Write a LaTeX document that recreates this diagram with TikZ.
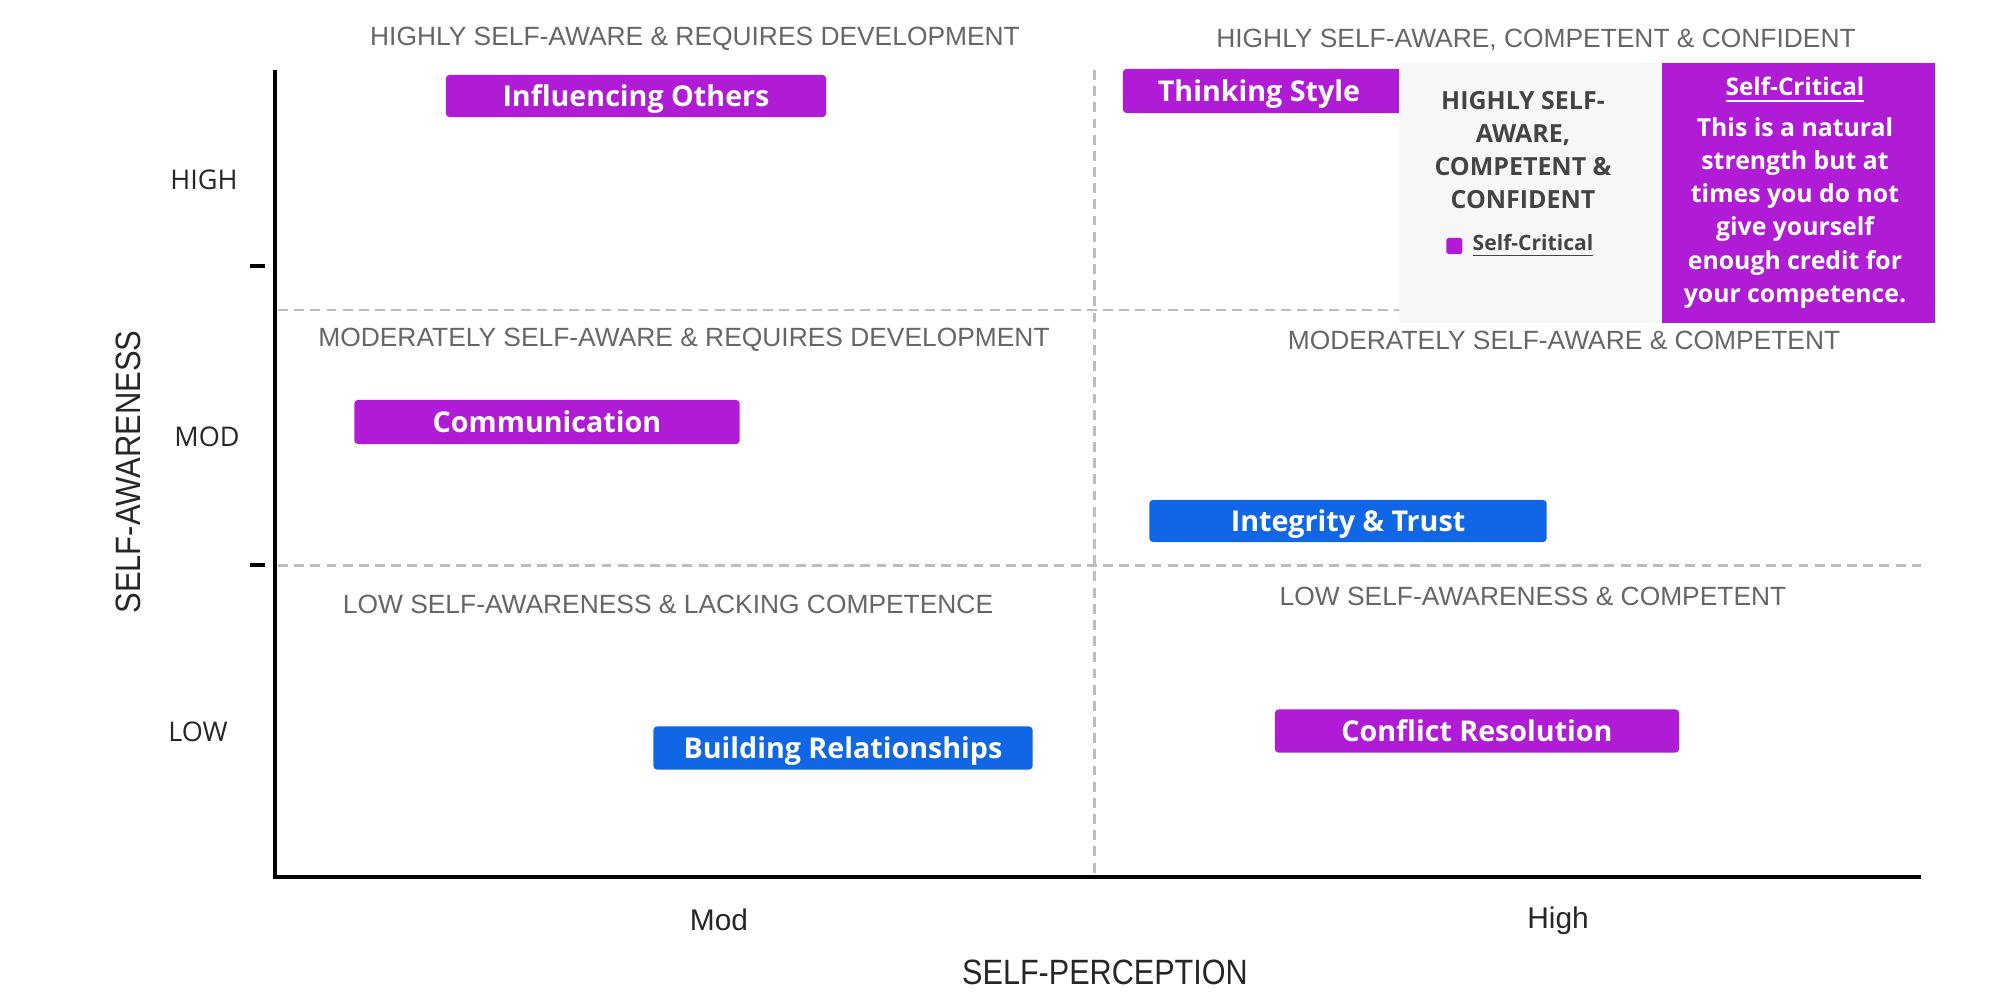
\documentclass[tikz,border=0pt]{standalone}
\usepackage{fontspec}
\setmainfont{Open Sans}
\newfontfamily\arialfont{Liberation Sans}
\usetikzlibrary{positioning}
\definecolor{barpurple}{HTML}{B01BD5}
\definecolor{barblue}{HTML}{1066E4}
\definecolor{quadgrey}{HTML}{666666}
\definecolor{boxgrey}{HTML}{F7F7F7}
\definecolor{dashgrey}{HTML}{BDBDBD}
\definecolor{darktext}{HTML}{444444}

\begin{document}
\begin{tikzpicture}[x=0.01cm,y=-0.01cm,
  bar/.style={fill=barpurple,rounded corners=1pt,text=white,inner sep=0pt,
    text height=5.8pt,text depth=0pt,font=\bfseries\fontsize{8.15}{10}\selectfont},
  bluebar/.style={bar,fill=barblue},
  quad/.style={text=quadgrey,font=\arialfont\fontsize{7.5}{9}\selectfont},
  level/.style={text=black!85,font=\fontsize{7.7}{9}\selectfont},
  divider/.style={dashgrey,line width=0.85pt,dash pattern=on 2.8pt off 1.8pt},
  axisline/.style={line width=1.1pt}]
\useasboundingbox (0,0) rectangle (2000,1000);

% quadrant dividers
\draw[divider] (1094,70) -- (1094,877);
\draw[divider] (278,310) -- (1921,310);
\draw[divider] (278,565) -- (1921,565);

% axes and ticks
\coordinate (ytop) at (275,70);
\coordinate (origin) at (275,877);
\coordinate (xend) at (1921,877);
\draw[axisline] (ytop) -- (origin) -- (xend);
\draw[axisline] (250,266) -- (265,266);
\draw[axisline] (250,565) -- (265,565);

\node[level] (lhigh) at (204,180) {HIGH};
\node[level] (lmod) at (207,437) {MOD};
\node[level] (llow) at (198,732) {LOW};
\node[rotate=90,font=\arialfont\fontsize{10}{12}\selectfont,text=black!85] (ytitle) at (128,472)
  {\scalebox{0.88}[1]{SELF-AWARENESS}};
\node[font=\arialfont\fontsize{8.5}{10}\selectfont,text=black!85] (xmod) at (719,920) {Mod};
\node[font=\arialfont\fontsize{8.5}{10}\selectfont,text=black!85] (xhigh) at (1558,921) {High};
\node[font=\arialfont\fontsize{10}{12}\selectfont,text=black!85] (xtitle) at (1105,972)
  {\scalebox{0.87}[1]{SELF-PERCEPTION}};

% quadrant titles
\node[quad] (q1) at (695,39) {HIGHLY SELF-AWARE \& REQUIRES DEVELOPMENT};
\node[quad] (q2) at (1536,40) {HIGHLY SELF-AWARE, COMPETENT \& CONFIDENT};
\node[quad] (q3) at (684,340) {MODERATELY SELF-AWARE \& REQUIRES DEVELOPMENT};
\node[quad] (q4) at (1564,340) {MODERATELY SELF-AWARE \& COMPETENT};
\node[quad] (q5) at (668,604) {LOW SELF-AWARENESS \& LACKING COMPETENCE};
\node[quad] (q6) at (1533,596) {LOW SELF-AWARENESS \& COMPETENT};

% competencies
\node[bar,minimum width=3.8cm,minimum height=0.42cm] (influence) at (636,96) {Influencing Others};
\node[bar,minimum width=2.8cm,minimum height=0.44cm] (thinking) at (1263,91) {\hspace*{-0.08cm}Thinking Style};
\node[bar,minimum width=3.85cm,minimum height=0.44cm] (comms) at (547,422) {Communication};
\node[bluebar,minimum width=3.97cm,minimum height=0.42cm] (integrity) at (1348,521) {Integrity \& Trust};
\node[bluebar,minimum width=3.79cm,minimum height=0.43cm] (relations) at (843,748) {Building Relationships};
\node[bar,minimum width=4.04cm,minimum height=0.43cm] (conflict) at (1477,731) {Conflict Resolution};

% legend box
\node[fill=boxgrey,anchor=north west,minimum width=2.63cm,minimum height=2.6cm,inner sep=0pt] (greybox) at (1398,62) {};
\node[text=darktext,align=center,font=\bfseries\fontsize{7.1}{9.36}\selectfont] (greytitle) at (1523,150)
  {HIGHLY SELF-\\AWARE,\\COMPETENT \&\\CONFIDENT};
\node[text=darktext,font=\bfseries\fontsize{6}{7}\selectfont,inner sep=0pt] (legtext) at (1533,246) {\underline{Self-Critical}};
\node[fill=barpurple,rounded corners=0.5pt,minimum size=0.16cm,inner sep=0pt,left=0.09cm of legtext] (legsq) {};

\node[fill=barpurple,anchor=north west,minimum width=2.73cm,minimum height=2.6cm,inner sep=0pt] (critbox) at (1661,62) {};
\node[text=white,font=\bfseries\fontsize{6.9}{8}\selectfont] (crithead) at (1795,90) {\underline{Self-Critical}};
\node[text=white,align=center,font=\bfseries\fontsize{7.05}{9.4}\selectfont] (crittext) at (1795,213)
  {This is a natural\\strength but at\\times you do not\\give yourself\\enough credit for\\your competence.};
\end{tikzpicture}
\end{document}
